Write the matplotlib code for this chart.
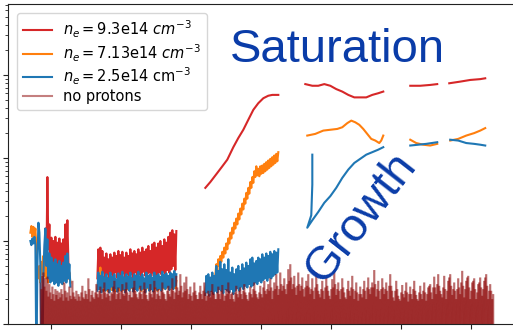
import numpy as np
import matplotlib
matplotlib.use("Agg")
import matplotlib.pyplot as plt
from matplotlib.collections import LineCollection

# Dense noisy records must not be merged into single strokes
plt.rcParams["path.simplify"] = False

# ---------------------------------------------------------------
# Data: time in ns, amplitude stored as log10 of the signal (a.u.)
# ---------------------------------------------------------------

# Noisy windows (uniformly sampled): start / end time
early_t = (-3.0, 2.714)          # blue / orange window
red_a_t = (-1.0, 2.571)
mid_t = (6.571, 17.857)          # second noisy window
late_t = (22.0, 32.43)           # third noisy window (blue / orange ramp)
noproton_t = (-1.571, 63.21)

red_a_log10 = [0.62, 1.15, 0.70, 1.77, 0.90, 1.20, 0.66, 1.04, 0.62, 1.00,
               0.66, 1.05, 0.60, 0.98, 0.64, 1.03, 0.60, 0.97, 0.66, 1.02,
               0.70, 1.20, 0.80, 1.25, 0.75, 0.55]

red_b_log10 = [0.55, 0.90, 0.60, 0.92, 0.58, 0.88, 0.62, 0.80, 0.56, 0.85,
               0.60, 0.78, 0.55, 0.84, 0.60, 0.80, 0.57, 0.86, 0.62, 0.82,
               0.56, 0.88, 0.60, 0.83, 0.58, 0.87, 0.61, 0.80, 0.55, 0.86,
               0.60, 0.82, 0.57, 0.90, 0.60, 0.85, 0.56, 0.88, 0.62, 0.84,
               0.58, 0.90, 0.60, 0.86, 0.57, 0.92, 0.63, 0.87, 0.58, 0.90,
               0.60, 0.94, 0.62, 0.88, 0.58, 0.96, 0.62, 0.98, 0.60, 0.92,
               0.58, 0.97, 0.62, 1.00, 0.60, 0.94, 0.63, 1.02, 0.60, 0.98,
               0.65, 1.05, 0.62, 1.10, 0.66, 1.13, 0.70, 1.08, 0.65, 1.12]

blue_a_log10 = [1.00, 0.95, 1.03, 0.97, 1.05, 0.95, -0.50, 0.70, 1.22, 1.10,
                0.70, -0.50, -0.50, 0.60, 0.95, 1.15, 0.70, 1.02, 0.55, 0.85,
                0.50, 0.80, 0.52, 0.74, 0.48, 0.78, 0.50, 0.72, 0.46, 0.76,
                0.50, 0.70, 0.48, 0.74, 0.52, 0.82, 0.50, 0.85, 0.55, 0.72,
                0.45]

blue_b_log10 = [0.40, 0.62, 0.42, 0.58, 0.38, 0.63, 0.44, 0.56, 0.40, 0.60,
                0.42, 0.55, 0.38, 0.62, 0.45, 0.57, 0.40, 0.60, 0.43, 0.54,
                0.39, 0.61, 0.44, 0.58, 0.40, 0.63, 0.42, 0.56, 0.38, 0.60,
                0.43, 0.57, 0.40, 0.62, 0.44, 0.55, 0.39, 0.60, 0.42, 0.58,
                0.40, 0.63, 0.45, 0.57, 0.41, 0.60, 0.43, 0.55, 0.38, 0.62,
                0.44, 0.58, 0.40, 0.60, 0.42, 0.56, 0.39, 0.62, 0.45, 0.58,
                0.41, 0.60, 0.43, 0.57, 0.40, 0.63, 0.44, 0.59, 0.42, 0.61,
                0.45, 0.58, 0.41, 0.62, 0.44, 0.60, 0.42, 0.64, 0.46, 0.60]

blue_c_log10 = [0.35, 0.58, 0.38, 0.60, 0.34, 0.56, 0.40, 0.62, 0.36, 0.58,
                0.40, 0.70, 0.38, 0.64, 0.42, 0.75, 0.40, 0.66, 0.37, 0.72,
                0.42, 0.65, 0.40, 0.78, 0.38, 0.62, 0.42, 0.68, 0.36, 0.60,
                0.40, 0.66, 0.43, 0.70, 0.40, 0.64, 0.45, 0.72, 0.42, 0.67,
                0.46, 0.74, 0.44, 0.70, 0.48, 0.78, 0.45, 0.80, 0.47, 0.73,
                0.50, 0.76, 0.48, 0.80, 0.52, 0.78, 0.50, 0.84, 0.53, 0.80,
                0.55, 0.85, 0.52, 0.82, 0.56, 0.87, 0.55, 0.84, 0.58, 0.88,
                0.60, 0.86, 0.62, 0.90]

orange_a_log10 = [1.10, 1.18, 1.05, 1.17, 1.06, 1.15, 0.90, 0.62, 0.55, 0.70,
                  0.50, 0.75, 0.60, 0.82, 0.58, 0.70, 0.55, 0.68, 0.50, 0.66,
                  0.52, 0.70, 0.55, 0.65, 0.50, 0.68, 0.54, 0.62, 0.50, 0.66,
                  0.52, 0.64, 0.48, 0.67, 0.55, 0.70, 0.52, 0.72, 0.55, 0.62,
                  0.50]

orange_b_log10 = [0.42, 0.55, 0.45, 0.68, 0.44, 0.52, 0.40, 0.50, 0.43, 0.54,
                  0.40, 0.50, 0.42, 0.53, 0.41, 0.49, 0.43, 0.52, 0.40, 0.50,
                  0.42, 0.51, 0.40, 0.48, 0.43, 0.52, 0.41, 0.50, 0.40, 0.53,
                  0.42, 0.50, 0.41, 0.52, 0.43, 0.49, 0.40, 0.51, 0.42, 0.50,
                  0.41, 0.53, 0.43, 0.50, 0.40, 0.52, 0.42, 0.49, 0.41, 0.51,
                  0.43, 0.52, 0.40, 0.50, 0.42, 0.53, 0.41, 0.50, 0.43, 0.52,
                  0.40, 0.51, 0.42, 0.50, 0.41, 0.52, 0.43, 0.50, 0.42, 0.53,
                  0.44, 0.52, 0.42, 0.54, 0.43, 0.52, 0.44, 0.55, 0.43, 0.52]

orange_c_log10 = [0.40, 0.50, 0.38, 0.48, 0.42, 0.52, 0.40, 0.55, 0.45, 0.50,
                  0.59, 0.72, 0.65, 0.78, 0.70, 0.82, 0.75, 0.87, 0.80, 0.92,
                  0.85, 0.97, 0.90, 1.03, 0.97, 1.10, 1.03, 1.16, 1.09, 1.22,
                  1.15, 1.27, 1.20, 1.33, 1.26, 1.39, 1.32, 1.45, 1.38, 1.51,
                  1.45, 1.58, 1.51, 1.64, 1.57, 1.71, 1.64, 1.77, 1.70, 1.84,
                  1.77, 1.90, 1.79, 1.87, 1.78, 1.90, 1.81, 1.91, 1.82, 1.93,
                  1.84, 1.95, 1.86, 1.97, 1.88, 1.99, 1.90, 2.01, 1.92, 2.03,
                  1.94, 2.05, 1.96, 2.07]

# Smooth (averaged) traces: explicit sample times
red_c_t = [22.0, 22.71, 23.71, 24.43, 25.14, 26.0, 26.71, 27.43, 28.14,
           28.86, 29.57, 30.29, 31.0, 31.57, 32.43]
red_c_log10 = [1.64, 1.71, 1.82, 1.90, 1.98, 2.13, 2.24, 2.34, 2.46,
               2.58, 2.66, 2.72, 2.75, 2.76, 2.76]
red_d_t = [36.29, 37.29, 38.14, 39.0, 39.86, 40.71, 41.57, 42.43, 43.29,
           44.14, 45.0, 45.86, 46.71, 47.43]
red_d_log10 = [2.89, 2.87, 2.87, 2.89, 2.87, 2.83, 2.80, 2.76, 2.73,
               2.73, 2.73, 2.76, 2.78, 2.80]
red_e_t = [51.29, 52.71, 54.14, 55.14]
red_e_log10 = [2.87, 2.87, 2.88, 2.89]
red_f_t = [56.86, 58.43, 59.86, 61.29, 62.0]
red_f_log10 = [2.90, 2.92, 2.94, 2.95, 2.96]

orange_d_t = [36.57, 37.71, 38.86, 39.86, 40.86, 41.57, 42.29, 42.86, 43.43,
              44.0, 44.57, 45.14, 45.71, 46.29, 46.86, 47.14, 47.43]
orange_d_log10 = [2.27, 2.29, 2.33, 2.34, 2.35, 2.37, 2.42, 2.45, 2.43,
                  2.40, 2.35, 2.29, 2.23, 2.21, 2.18, 2.21, 2.27]
orange_e_t = [51.29, 52.14, 53.14, 54.14, 55.14]
orange_e_log10 = [2.22, 2.18, 2.16, 2.15, 2.17]
orange_f_t = [57.0, 58.14, 59.29, 60.43, 61.29, 62.0]
orange_f_log10 = [2.21, 2.23, 2.27, 2.30, 2.33, 2.36]

blue_d_t = [37.29, 37.29, 37.14, 36.57, 37.29, 38.14, 39.0, 39.86, 40.71,
            41.57, 42.43, 43.29, 44.14, 45.0, 45.86, 46.71, 47.43]
blue_d_log10 = [2.04, 1.68, 1.31, 1.16, 1.25, 1.35, 1.46, 1.54, 1.64,
                1.76, 1.86, 1.94, 1.99, 2.04, 2.07, 2.10, 2.13]
blue_e_t = [51.29, 52.43, 53.57, 55.14]
blue_e_log10 = [2.15, 2.16, 2.17, 2.19]
blue_f_t = [57.0, 58.14, 59.29, 60.43, 61.29, 62.0]
blue_f_log10 = [2.22, 2.21, 2.18, 2.17, 2.16, 2.15]

# Reference shot without protons: local maxima, with the signal dropping
# below the displayed range between them
noproton_peaks_log10 = [
    0.50, 0.42, 0.58, 0.62, 0.45, 0.55, 0.40, 0.57, 0.33, 0.48, 0.38, 0.30, 0.45, 0.36, 0.28, 0.42, 0.35, 0.40, 0.30, 0.38,
    0.32, 0.42, 0.36, 0.28, 0.50, 0.40, 0.32, 0.38, 0.28, 0.45, 0.34, 0.30, 0.52, 0.38, 0.33, 0.30, 0.40, 0.28, 0.36, 0.33,
    0.28, 0.38, 0.46, 0.32, 0.30, 0.40, 0.36, 0.30, 0.55, 0.42, 0.27, 0.35, 0.40, 0.32, 0.30, 0.38, 0.48, 0.36, 0.32, 0.40,
    0.45, 0.36, 0.30, 0.42, 0.50, 0.38, 0.32, 0.36, 0.42, 0.34, 0.28, 0.38, 0.36, 0.45, 0.52, 0.40, 0.30, 0.36, 0.44, 0.38,
    0.30, 0.40, 0.48, 0.36, 0.34, 0.42, 0.50, 0.38, 0.28, 0.35, 0.40, 0.32, 0.32, 0.44, 0.52, 0.40, 0.36, 0.32, 0.30, 0.38,
    0.46, 0.36, 0.30, 0.40, 0.50, 0.42, 0.35, 0.30, 0.28, 0.38, 0.48, 0.36, 0.32, 0.40, 0.52, 0.44, 0.30, 0.36, 0.42, 0.34,
    0.30, 0.40, 0.50, 0.38, 0.36, 0.30, 0.28, 0.40, 0.46, 0.36, 0.33, 0.42, 0.55, 0.40, 0.30, 0.38, 0.58, 0.44, 0.35, 0.40,
    0.60, 0.46, 0.32, 0.38, 0.50, 0.40, 0.57, 0.42, 0.30, 0.36, 0.45, 0.34, 0.28, 0.38, 0.50, 0.40, 0.35, 0.30, 0.30, 0.38,
    0.46, 0.36, 0.30, 0.40, 0.50, 0.38, 0.28, 0.34, 0.40, 0.36, 0.32, 0.40, 0.48, 0.38, 0.36, 0.30, 0.30, 0.38, 0.45, 0.36,
    0.30, 0.40, 0.47, 0.36, 0.28, 0.34, 0.42, 0.36, 0.50, 0.40, 0.30, 0.36, 0.38, 0.30, 0.27, 0.38, 0.46, 0.36, 0.32, 0.40,
    0.44, 0.36, 0.30, 0.40, 0.48, 0.38, 0.35, 0.30, 0.28, 0.38, 0.45, 0.36, 0.32, 0.42, 0.50, 0.40, 0.36, 0.32, 0.30, 0.38,
    0.46, 0.36, 0.32, 0.44, 0.52, 0.40, 0.36, 0.42, 0.48, 0.40, 0.55, 0.44, 0.30, 0.40, 0.50, 0.42, 0.60, 0.46, 0.35, 0.42,
    0.62, 0.48, 0.40, 0.46, 0.55, 0.42, 0.36, 0.48, 0.66, 0.52, 0.72, 0.56, 0.42, 0.48, 0.58, 0.44, 0.35, 0.46, 0.62, 0.48,
    0.40, 0.46, 0.56, 0.42, 0.33, 0.44, 0.52, 0.46, 0.60, 0.44, 0.36, 0.42, 0.55, 0.40, 0.30, 0.44, 0.62, 0.48, 0.40, 0.36,
    0.32, 0.42, 0.52, 0.40, 0.30, 0.44, 0.56, 0.46, 0.40, 0.34, 0.30, 0.42, 0.54, 0.44, 0.64, 0.48, 0.35, 0.42, 0.50, 0.40,
    0.30, 0.42, 0.55, 0.44, 0.38, 0.32, 0.30, 0.42, 0.52, 0.40, 0.34, 0.44, 0.58, 0.42, 0.30, 0.40, 0.50, 0.38, 0.28, 0.36,
    0.45, 0.36, 0.32, 0.42, 0.52, 0.40, 0.30, 0.44, 0.56, 0.42, 0.36, 0.44, 0.50, 0.44, 0.65, 0.48, 0.33, 0.42, 0.52, 0.40,
    0.30, 0.42, 0.55, 0.44, 0.36, 0.42, 0.50, 0.40, 0.30, 0.46, 0.60, 0.46, 0.40, 0.32, 0.28, 0.40, 0.52, 0.42, 0.34, 0.30,
    0.28, 0.38, 0.47, 0.36, 0.32, 0.40, 0.50, 0.38, 0.27, 0.36, 0.45, 0.36, 0.30, 0.42, 0.52, 0.40, 0.35, 0.30, 0.28, 0.38,
    0.46, 0.36, 0.30, 0.40, 0.50, 0.38, 0.28, 0.36, 0.44, 0.46, 0.48, 0.38, 0.30, 0.44, 0.57, 0.44, 0.36, 0.48, 0.60, 0.46,
    0.40, 0.36, 0.32, 0.44, 0.58, 0.42, 0.30, 0.40, 0.52, 0.56, 0.60, 0.46, 0.35, 0.42, 0.50, 0.40, 0.30, 0.42, 0.55, 0.44,
    0.36, 0.50, 0.64, 0.46, 0.32, 0.42, 0.52, 0.56, 0.58, 0.44, 0.30, 0.40, 0.50, 0.52, 0.55, 0.42, 0.30, 0.38, 0.48, 0.50,
    0.56, 0.44, 0.34, 0.42, 0.52, 0.56, 0.60, 0.46, 0.30, 0.40, 0.48, 0.40, 0.30, 0.36]
noproton_floor_log10 = -0.40

labels = [r"$n_e = $9.3e14 $cm^{-3}$",
          r"$n_e = $7.13e14 $cm^{-3}$",
          r"$n_e = $2.5e14 cm$^{-3}$",
          "no protons"]
colors = ["#d62728", "#ff7f0e", "#1f77b4"]
noproton_color = "#8b0000"


def uniform(span, values):
    """Sample times for a uniformly sampled record."""
    return np.linspace(span[0], span[1], len(values)), np.asarray(values, float)


def join(*segments):
    """Concatenate (t, log10 y) records, separated by gaps."""
    ts, ys = [], []
    for t, y in segments:
        ts.extend(list(t) + [np.nan])
        ys.extend(list(10.0 ** np.asarray(y, float)) + [np.nan])
    return np.array(ts), np.array(ys)


red_t, red_y = join(uniform(red_a_t, red_a_log10),
                    uniform(mid_t, red_b_log10),
                    (red_c_t, red_c_log10), (red_d_t, red_d_log10),
                    (red_e_t, red_e_log10), (red_f_t, red_f_log10))
orange_t, orange_y = join(uniform(early_t, orange_a_log10),
                          uniform(mid_t, orange_b_log10),
                          uniform(late_t, orange_c_log10),
                          (orange_d_t, orange_d_log10),
                          (orange_e_t, orange_e_log10),
                          (orange_f_t, orange_f_log10))
blue_t, blue_y = join(uniform(early_t, blue_a_log10),
                      uniform(mid_t, blue_b_log10),
                      uniform(late_t, blue_c_log10),
                      (blue_d_t, blue_d_log10),
                      (blue_e_t, blue_e_log10),
                      (blue_f_t, blue_f_log10))

peaks = np.asarray(noproton_peaks_log10)
np_log = np.column_stack([peaks, np.full_like(peaks, noproton_floor_log10)]).ravel()
np_t = np.linspace(noproton_t[0], noproton_t[1], len(np_log))
np_y = 10.0 ** np_log

# ---------------------------------------------------------------
fig = plt.figure(figsize=(5.13, 3.31), dpi=100)
ax = fig.add_axes([8 / 513, 7 / 331, 522 / 513, 320 / 331])

lw = 1.5
ax.plot(red_t, red_y, color=colors[0], lw=lw, label=labels[0])
ax.plot(orange_t, orange_y, color=colors[1], lw=lw, label=labels[1])
ax.plot(blue_t, blue_y, color=colors[2], lw=lw, label=labels[2])

# each segment is stroked on its own so overlapping parts build up colour
pts = np.column_stack([np_t, np_y])
segs = np.stack([pts[:-1], pts[1:]], axis=1)
ax.add_collection(LineCollection(segs, colors=noproton_color, alpha=0.35,
                                 linewidths=1.5))
ax.plot([], [], color=noproton_color, alpha=0.5, lw=lw, label=labels[3])

ax.set_yscale("log")
ax.set_ylim(1, 10 ** 3.855)
ax.set_xlim(-6.2, 68.4)
ax.set_xticks(np.arange(0, 70, 10))
ax.tick_params(labelleft=False, labelbottom=False, color="#222222")
ax.tick_params(which="minor", color="#222222")
for side in ("left", "bottom", "top"):
    ax.spines[side].set_color("#222222")
ax.spines["right"].set_visible(False)

ax.legend(loc="upper left", fontsize=10.5, handlelength=2.0,
          labelspacing=0.15, borderaxespad=0.6)

txt_color = "#0a3ca8"
fig.text(230 / 513, 1 - 62 / 331, "Saturation", fontsize=34,
         family="Liberation Sans", color=txt_color, ha="left", va="baseline")
fig.text(361 / 513, 1 - 218 / 331, "Growth", fontsize=34,
         family="Liberation Sans", color=txt_color, rotation=52,
         rotation_mode="anchor", ha="center", va="center")

fig.savefig("out.png", dpi=100)
